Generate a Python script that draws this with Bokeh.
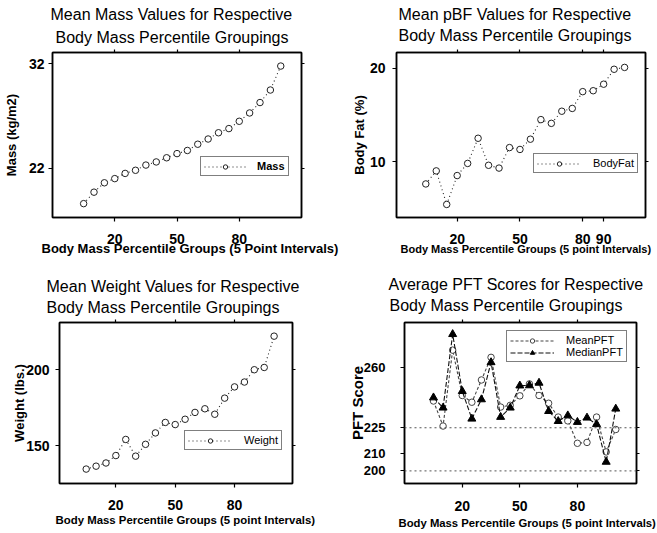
from bokeh.plotting import figure
from bokeh.models import Range1d, FixedTicker, LinearAxis, Title, Legend, LegendItem, Span
from bokeh.layouts import column, row
from bokeh.embed import file_html
from bokeh.resources import INLINE

FONT = "Liberation Sans"

# ---- data ----
groups = [5, 10, 15, 20, 25, 30, 35, 40, 45, 50, 55, 60, 65, 70, 75, 80, 85, 90, 95, 100]
mass = [18.6, 19.7, 20.6, 21.0, 21.5, 21.8, 22.3, 22.6, 23.0, 23.4,
        23.7, 24.3, 24.8, 25.4, 25.8, 26.5, 27.3, 28.3, 29.5, 31.8]
body_fat = [7.6, 9.0, 5.4, 8.5, 9.8, 12.5, 9.6, 9.3, 11.5, 11.3,
            12.4, 14.5, 14.1, 15.4, 15.7, 17.5, 17.6, 18.3, 19.9, 20.1]
weight = [134.7, 136.6, 138.7, 143.6, 154.2, 143.2, 151.0, 158.5, 165.4, 164.0,
          167.5, 172.0, 174.4, 170.8, 181.4, 188.8, 192.0, 200.1, 201.6, 222.2]
mean_pft = [240.5, 226.0, 270.0, 243.7, 239.8, 252.7, 265.8, 237.0, 238.0, 243.5,
            250.4, 243.7, 239.2, 231.2, 229.0, 216.0, 216.5, 231.2, 211.0, 224.0]
median_pft = [242.5, 236.6, 279.2, 246.2, 230.2, 241.4, 262.9, 231.2, 236.6, 249.4,
              249.5, 251.0, 234.6, 228.8, 232.1, 228.3, 230.8, 227.0, 205.2, 236.0]
pft_ref_lines = [225, 200]

titles = {
    "mass": ["Mean Mass Values for Respective", "Body Mass Percentile Groupings"],
    "bf": ["Mean pBF Values for Respective", "Body Mass Percentile Groupings"],
    "wt": ["Mean Weight Values for Respective", "Body Mass Percentile Groupings"],
    "pft": ["Average PFT Scores for Respective", "Body Mass Percentile Groupings"],
}
xlabels = {
    "mass": "Body Mass Percentile Groups (5 Point Intervals)",
    "bf": "Body Mass Percentile Groups (5 point Intervals)",
    "wt": "Body Mass Percentile Groups (5 point Intervals)",
    "pft": "Body Mass Percentile Groups (5 point Intervals)",
}
ylabels = {"mass": "Mass (kg/m2)", "bf": "Body Fat (%)", "wt": "Weight (lbs.)", "pft": "PFT Score"}
xticks = {"mass": [20, 50, 80], "bf": [20, 50, 80, 90], "wt": [20, 50, 80], "pft": [20, 50, 80]}
yticks = {"mass": [22, 32], "bf": [10, 20], "wt": [150, 200], "pft": [200, 210, 225, 260]}


def make_fig(key, width, height, borders, xr, yr, c):
    left, right, top, bottom = borders
    p = figure(width=width, height=height, x_range=Range1d(*xr), y_range=Range1d(*yr),
               output_backend="svg", toolbar_location=None,
               min_border_left=left, min_border_right=right,
               min_border_top=top, min_border_bottom=bottom)
    p.grid.visible = False
    p.background_fill_color = "white"
    p.border_fill_color = "white"
    p.outline_line_color = "black"
    p.outline_line_width = 1.5

    top_ax = LinearAxis(major_label_text_font_size="0px", major_label_standoff=0,
                        major_label_text_color=None)
    right_ax = LinearAxis(major_label_text_font_size="0px", major_label_standoff=0,
                          major_label_text_color=None)
    p.add_layout(top_ax, "above")
    p.add_layout(right_ax, "right")

    p.xaxis.ticker = FixedTicker(ticks=xticks[key])
    p.yaxis.ticker = FixedTicker(ticks=yticks[key])
    for ax in p.axis:
        ax.axis_line_color = "black"
        ax.axis_line_width = 1.5
        ax.major_tick_line_color = "black"
        ax.major_tick_line_width = 1.2
        ax.major_tick_in = 0
        ax.major_tick_out = 4
        ax.minor_tick_line_color = None
        ax.major_label_text_font = FONT
        ax.major_label_text_font_style = "bold"
    top_ax.major_tick_out = 3
    right_ax.major_tick_out = 3
    top_ax.major_label_text_color = None
    right_ax.major_label_text_color = None

    bx = p.below[0]
    bx.major_label_text_font_size = "14px"
    bx.major_label_text_color = "black"
    bx.major_label_standoff = c["xtick_standoff"]
    ly = p.left[0]
    ly.major_label_text_font_size = c.get("ytick_size", "14px")
    ly.major_label_text_color = "black"
    ly.major_label_standoff = c["ytick_standoff"]
    ly.axis_label = ylabels[key]
    ly.axis_label_text_font = FONT
    ly.axis_label_text_font_style = "bold"
    ly.axis_label_text_font_size = c["ylabel_size"]
    ly.axis_label_standoff = c["ylabel_standoff"]
    ly.axis_label_text_color = "black"

    (o1, s1), (o2, s2) = c["title"]
    # second title line sits nearest the plot
    p.add_layout(Title(text=titles[key][1], align="left", offset=o2, standoff=s2,
                       text_font=FONT, text_font_size="16px", text_font_style="normal",
                       text_color="black"), "above")
    p.add_layout(Title(text=titles[key][0], align="left", offset=o1, standoff=s1,
                       text_font=FONT, text_font_size="16px", text_font_style="normal",
                       text_color="black"), "above")
    xo, xs, xsize = c["xlabel"]
    p.add_layout(Title(text=xlabels[key], align="left", offset=xo, standoff=xs,
                       text_font=FONT, text_font_size=xsize, text_font_style="bold",
                       text_color="black"), "below")
    return p


def style_legend(p, items, loc, bold=False, gw=44, ls=12):
    lg = Legend(items=items, location=loc)
    lg.border_line_color = "black"
    lg.border_line_width = 1
    lg.background_fill_color = "white"
    lg.background_fill_alpha = 1
    lg.padding = 3
    lg.margin = 0
    lg.spacing = 0
    lg.glyph_width = gw
    lg.glyph_height = 11
    lg.label_height = 11
    lg.label_standoff = ls
    lg.label_text_font = FONT
    lg.label_text_font_size = "11px"
    lg.label_text_font_style = "bold" if bold else "normal"
    lg.label_text_color = "black"
    p.add_layout(lg)


def series(p, y, dash="1 3", marker="circle", size=6.5, color="#222"):
    ln = p.line(groups, y, line_color=color, line_width=1.1, line_dash=dash)
    if marker == "circle":
        sc = p.scatter(groups, y, marker="circle", size=size, fill_color="white",
                       line_color=color, line_width=1)
    else:
        sc = p.scatter(groups, y, marker="triangle", size=size, fill_color="black",
                       line_color="black", line_width=1)
    return [ln, sc]


# Mass  (frame: x 51..301, y 50..217)
pA = make_fig("mass", 343, 262, (51, 42, 50, 45), (-10, 110), (17.27, 33.1), dict(
    xtick_standoff=12, ytick_standoff=4, ylabel_size="13px", ylabel_standoff=7,
    title=[(-2, -1), (3, 8)], xlabel=(-11, -16, "13px")))
rA = series(pA, mass)
style_legend(pA, [LegendItem(label="Mass", renderers=rA)], (148, 41), bold=True, gw=42, ls=11)

# Body fat (frame: x 396..645, y 52..219)
pB = make_fig("bf", 314, 262, (53, 12, 52, 43), (-9, 110), (4.0, 21.7), dict(
    xtick_standoff=12, ytick_standoff=7, ylabel_size="13px", ylabel_standoff=0,
    title=[(2, -8), (2, 12)], xlabel=(4, -16, "11px")))
rB = series(pB, body_fat)
style_legend(pB, [LegendItem(label="BodyFat", renderers=rB)], (137, 44))

# Weight (frame: x 59..292, y 320..487)
pC = make_fig("wt", 343, 271, (59, 51, 58, 46), (-8.5, 109.3), (125.2, 231.2), dict(
    xtick_standoff=12, ytick_standoff=6, ylabel_size="13px", ylabel_standoff=-4,
    title=[(-13, -4), (-13, 8)], xlabel=(-4, -1, "11.4px")))
rC = series(pC, weight)
style_legend(pC, [LegendItem(label="Weight", renderers=rC)], (125, 33))

# PFT (frame: x 404..636, y 322..483)
pD = make_fig("pft", 314, 271, (61, 21, 60, 50), (-10.1, 110.8), (192.7, 286.0), dict(
    xtick_standoff=13, ytick_standoff=15, ytick_size="13px", ylabel_size="15px",
    ylabel_standoff=-5, title=[(-16, -8), (-15, 12)], xlabel=(-6, 2, "11.3px")))
for v in pft_ref_lines:
    pD.add_layout(Span(location=v, dimension="width", line_color="#555",
                       line_dash="2 3", line_width=1))
rD1 = series(pD, mean_pft, dash="3 2", color="#444")
rD2 = series(pD, median_pft, dash="5 2", marker="triangle", size=8, color="#111")
style_legend(pD, [LegendItem(label="MeanPFT", renderers=rD1),
                  LegendItem(label="MedianPFT", renderers=rD2)], (102, 121))

layout = column(row(pA, pB), row(pC, pD))
open("out.html", "w").write(file_html(layout, INLINE))
